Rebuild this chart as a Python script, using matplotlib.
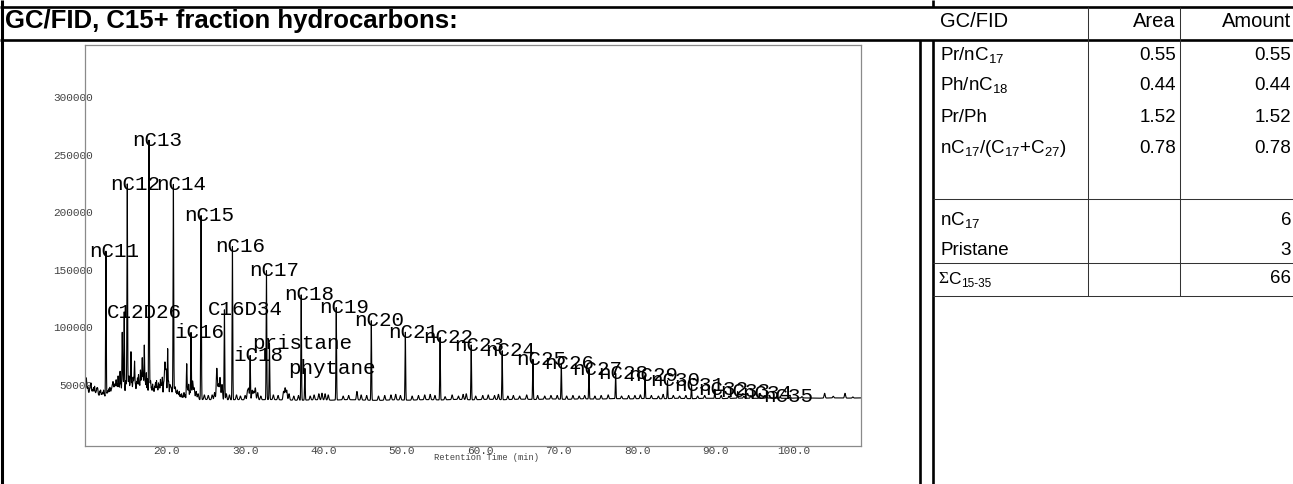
import matplotlib
matplotlib.use("Agg")
import matplotlib.pyplot as plt
import numpy as np

plt.rcParams['font.family'] = ['Liberation Sans', 'DejaVu Sans']
plt.rcParams['mathtext.fontset'] = 'custom'
plt.rcParams['mathtext.rm'] = 'Liberation Sans'
plt.rcParams['mathtext.it'] = 'Liberation Sans:italic'
plt.rcParams['mathtext.bf'] = 'Liberation Sans:bold'

# ---------------- chromatogram data ----------------
# identified peaks: name, retention time (min), apex signal
peak_names = ["nC11", "C12D26", "nC12", "nC13", "nC14", "iC16", "nC15", "C16D34",
              "nC16", "iC18", "nC17", "pristane", "nC18", "phytane", "nC19", "nC20",
              "nC21", "nC22", "nC23", "nC24", "nC25", "nC26", "nC27", "nC28",
              "nC29", "nC30", "nC31", "nC32", "nC33", "nC34", "nC35"]
peak_rt = [12.25, 14.58, 14.97, 17.74, 20.85, 23.10, 24.38, 27.36,
           28.38, 30.64, 32.72, 33.10, 37.15, 37.62, 41.62, 46.09,
           50.43, 54.86, 58.83, 62.78, 66.70, 70.32, 73.85, 77.25,
           81.00, 83.86, 86.92, 89.90, 92.80, 95.56, 98.24]
peak_height = [166000, 113000, 224000, 262000, 224000, 95000, 197000, 115000,
               170000, 75000, 149000, 86000, 128000, 64000, 117000, 105500,
               95500, 91000, 84400, 79400, 72000, 68500, 63300, 59800,
               57800, 53300, 49600, 45900, 43800, 41800, 40000]

# unlabelled minor peaks: retention time (min), apex signal (thousands)
minor_rt = [9.65, 9.75, 9.85, 9.95, 10.05, 10.15, 10.25, 10.35, 10.45, 10.55, 10.67,
            10.8, 10.9, 11.0, 11.1, 11.2, 11.32, 11.45, 11.57, 11.7, 11.82, 11.95,
            12.07, 12.4, 12.5, 12.62, 12.75, 12.85, 12.95, 13.05, 13.15, 13.25, 13.35,
            13.45, 13.55, 13.67, 13.8, 13.92, 14.05, 14.17, 14.33, 14.45, 14.75, 14.85,
            15.1, 15.2, 15.32, 15.44, 15.57, 15.7, 15.8, 15.9, 16.02, 16.15, 16.27,
            16.4, 16.52, 16.65, 16.77, 16.88, 17.0, 17.14, 17.27, 17.4, 17.55, 17.85,
            17.95, 18.07, 18.2, 18.32, 18.45, 18.57, 18.7, 18.82, 18.95, 19.07, 19.2,
            19.32, 19.44, 19.6, 19.7, 19.78, 19.87, 19.95, 20.12, 20.25, 20.4, 20.5,
            20.6, 20.72, 21.0, 21.1, 21.22, 21.35, 21.47, 21.6, 21.75, 21.9, 22.05,
            22.2, 22.35, 22.55, 22.68, 22.8, 22.95, 23.3, 23.5, 23.75, 24.0, 24.8,
            25.3, 25.8, 26.1, 26.39, 26.6, 26.8, 27.05, 27.6, 28.0, 28.9, 29.4, 30.0,
            30.3, 30.45, 30.9, 31.1, 31.3, 31.6, 32.0, 33.6, 34.2, 34.9, 35.1, 35.3,
            35.6, 36.2, 36.8, 38.3, 38.8, 39.4, 39.8, 40.2, 40.6, 42.5, 43.2, 44.26,
            44.8, 45.5, 47.0, 47.8, 48.6, 49.2, 49.8, 51.3, 52.1, 52.9, 53.6, 54.2,
            55.5, 56.4, 57.2, 57.8, 58.2, 59.4, 60.3, 61.0, 61.8, 62.3, 63.5, 64.2,
            65.0, 65.9, 67.3, 68.2, 69.0, 69.8, 71.0, 71.8, 72.6, 73.3, 74.6, 75.4,
            76.3, 78.0, 78.9, 79.7, 80.4, 81.8, 82.7, 83.3, 84.6, 85.4, 86.2, 87.7,
            88.6, 90.7, 91.7, 93.6, 94.5, 96.5, 99.5, 101.0, 103.9, 105.0, 106.5,
            107.5]
minor_height_k = [52, 54, 45, 47, 42, 44, 48, 50, 43, 45, 47,
                  48, 42, 43, 46, 46, 41, 44, 45, 42, 43, 45,
                  41, 42, 44, 46, 47, 43, 45, 48, 51, 46, 49,
                  47, 53, 50, 57, 48, 61, 50, 95, 52, 52, 48,
                  50, 56, 49, 78, 51, 55, 50, 69, 49, 52, 55,
                  58, 50, 62, 54, 72, 56, 84, 52, 60, 55, 49,
                  52, 47, 50, 46, 48, 51, 53, 47, 51, 49, 54,
                  50, 56, 50, 53, 64, 55, 58, 81, 52, 49, 47,
                  46, 44, 46, 47, 43, 45, 42, 44, 41, 42, 40,
                  43, 41, 68, 45, 50, 44, 53, 47, 44, 42, 41,
                  40.5, 41, 43, 64, 50, 56, 50, 42, 41, 41, 40, 40.5,
                  44, 46, 45, 44, 47, 43, 40, 41, 40.5, 44, 47, 45,
                  42, 40, 40.5, 40, 41, 42, 42.5, 42, 41, 40, 40.5, 44,
                  41, 40.5, 40, 40.5, 41, 41.5, 40.5, 40, 40.5, 41, 41.5, 40.5,
                  39.5, 41, 40, 41.5, 42, 40, 40.5, 41, 40.5, 41.5, 40, 40.5,
                  40, 41, 40.5, 40, 40.5, 40.5, 40, 40.5, 40, 40.5, 40, 40.5,
                  41, 40, 40.5, 40.5, 41, 40.5, 40, 41.5, 40.5, 40, 40.5, 40,
                  40.5, 40.5, 40, 40, 40.5, 40, 39.5, 39.5, 42.4, 39.8, 42.4,
                  39.2]

# drifting baseline level along the run (thousands)
base_rt = [9.6, 11, 13, 15, 17, 19, 21, 23, 25, 27, 29, 31, 33, 35, 37, 39, 41,
           43, 45, 47, 49, 51, 53, 55, 57, 59, 61, 63, 65, 67, 69, 71, 73, 75,
           77, 79, 81, 83, 85, 87, 89, 91, 93, 95, 97, 99, 101, 103, 105, 107, 108.6]
base_level_k = [38.0, 37.0, 37.6, 36.8, 37.4, 36.9, 37.3, 36.6, 37.0, 36.4, 36.9,
                36.5, 37.0, 36.6, 36.3, 36.8, 36.4, 36.9, 36.5, 36.2, 36.7, 36.4,
                36.9, 36.6, 37.1, 36.7, 37.2, 36.8, 37.3, 37.0, 37.5, 37.1, 37.6,
                37.3, 37.8, 37.5, 37.9, 37.6, 38.0, 37.7, 38.1, 37.8, 38.2, 38.0,
                38.3, 38.0, 38.4, 38.1, 38.4, 38.2, 38.4]

x_ticks = [20, 30, 40, 50, 60, 70, 80, 90, 100]
y_ticks = [50000, 100000, 150000, 200000, 250000, 300000]

# ---------------- results table ----------------
ratio_labels = ["Pr/nC$_{17}$", "Ph/nC$_{18}$", "Pr/Ph", "nC$_{17}$/(C$_{17}$+C$_{27}$)"]
ratio_area = ["0.55", "0.44", "1.52", "0.78"]
ratio_amount = ["0.55", "0.44", "1.52", "0.78"]
conc_labels = ["nC$_{17}$", "Pristane"]
conc_amount = ["6", "3"]
sum_amount = "66"

W, H = 1293, 484
fig = plt.figure(figsize=(W / 100, H / 100), dpi=100)

# page layer, laid out in pixel units from the top-left corner
page = fig.add_axes([0, 0, 1, 1], zorder=0)
page.set_xlim(0, W)
page.set_ylim(H, 0)
page.axis('off')

def rule(xs, ys, lw, color='black'):
    page.plot(xs, ys, color=color, lw=lw, solid_capstyle='butt')

thick = 1.9
thin = 0.75
rule([1.5, 1.5], [0, H], 2.2)
rule([0, W], [7, 7], thick)
rule([933, 933], [0, 7], thick)
rule([0, W], [40, 40], thick)
rule([920, 920], [40, H], thick)
rule([933, 933], [40, H], thick)
for xc in (1088, 1180):
    rule([xc, xc], [7, 296], thin, '#333333')
for yr in (199, 263, 296):
    rule([933, W], [yr, yr], thin, '#333333')

page.text(5, 28, "GC/FID, C15+ fraction hydrocarbons:", fontsize=18.5, fontweight='bold',
          va='baseline', ha='left')

hdr = 14.5
body = 13.5
page.text(940, 27, "GC/FID", fontsize=hdr, va='baseline')
page.text(1176, 27, "Area", fontsize=hdr, va='baseline', ha='right')
page.text(1291, 27, "Amount", fontsize=hdr, va='baseline', ha='right')

for yb, lab, a, m in zip([60, 90, 121.5, 153], ratio_labels, ratio_area, ratio_amount):
    page.text(940, yb, lab, fontsize=body, va='baseline')
    page.text(1176, yb, a, fontsize=body, va='baseline', ha='right')
    page.text(1291, yb, m, fontsize=body, va='baseline', ha='right')

for yb, lab, m in zip([225, 255], conc_labels, conc_amount):
    page.text(940, yb, lab, fontsize=body, va='baseline')
    page.text(1291, yb, m, fontsize=body, va='baseline', ha='right')

sig_t = page.text(938, 287, "Σ", fontsize=12.5, family='Liberation Serif', va='bottom')
c_t = page.annotate("C", xy=(1, 0), xycoords=sig_t, xytext=(0, 0), textcoords='offset points',
                    fontsize=12.5, va='bottom', ha='left')
page.annotate("15-35", xy=(1, 0), xycoords=c_t, xytext=(0.3, -2.2), textcoords='offset points',
              fontsize=8.5, va='bottom', ha='left')
page.text(1291, 287, sum_amount, fontsize=body, va='bottom', ha='right')

# ---------------- chromatogram ----------------
ax = fig.add_axes([85 / W, (H - 445.7) / H, 775.7 / W, 400.7 / H], zorder=1)
ax.set_xlim(9.58, 108.5)
ax.set_ylim(-3200, 345400)

base_rt_a = np.array(base_rt)
base_a = np.array(base_level_k) * 1000.0
t = np.arange(9.58, 108.55, 0.01)
signal = np.interp(t, base_rt_a, base_a)
minor_h = np.array(minor_height_k) * 1000.0
for rt, h in zip(minor_rt, minor_h):
    w = 0.045 if rt < 23 else 0.07
    amp = h - np.interp(rt, base_rt_a, base_a)
    signal = signal + amp * np.exp(-0.5 * ((t - rt) / w) ** 2)
for rt, h in zip(peak_rt, peak_height):
    amp = h - np.interp(rt, base_rt_a, base_a)
    signal = signal + amp * np.exp(-0.5 * ((t - rt) / 0.04) ** 2)
ax.plot(t, signal, color='black', lw=0.8)

for name, rt, h in zip(peak_names, peak_rt, peak_height):
    ax.annotate(name, xy=(rt, h), xytext=(-17, -5.5), textcoords='offset pixels',
                ha='left', va='baseline', fontsize=15, family='Liberation Mono',
                color='black', annotation_clip=False)

for s in ax.spines.values():
    s.set_color('#8a8a8a')
    s.set_linewidth(0.9)

ax.set_xticks(x_ticks)
ax.set_xticklabels([f"{v:.1f}" for v in x_ticks], family='Liberation Mono', fontsize=8,
                   color='#444444')
ax.set_yticks(y_ticks)
ax.set_yticklabels([str(v) for v in y_ticks], family='Liberation Mono', fontsize=8,
                   color='#444444')
ax.tick_params(axis='x', length=0, pad=0)
ax.tick_params(axis='y', length=0, pad=-5.5)

page.text(487, 457, "Retention Time (min)", fontsize=6.3, family='Liberation Mono',
          ha='center', va='center', color='#444444')

fig.savefig("out.png", dpi=100)
